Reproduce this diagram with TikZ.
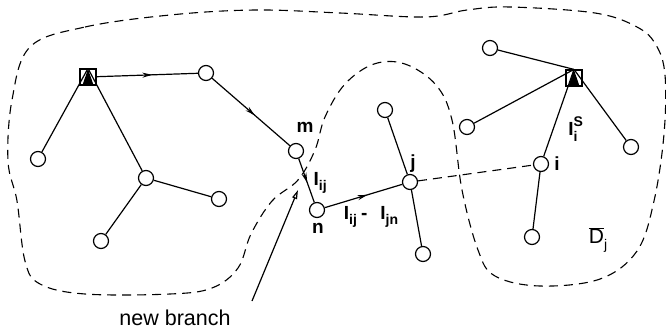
\documentclass[tikz,border=0pt]{standalone}
\usepackage{fontspec}
\setmainfont{Liberation Sans}
\usetikzlibrary{arrows.meta,decorations.markings}
\newcommand\lsub[1]{\raisebox{-0.3em}{\fontsize{14}{14}\selectfont #1}}
\newcommand\lsup[1]{\raisebox{0.45em}{\fontsize{14}{14}\selectfont #1}}
\begin{document}
\begin{tikzpicture}[x=1pt,y=-1pt,line width=1.2pt,
 nd/.style={circle,draw,fill=white,minimum size=15pt,inner sep=0pt},
 src/.style={draw,fill=white,minimum size=16pt,inner sep=0pt,
   path picture={\fill[black] ([xshift=2.5pt]path picture bounding box.south west) -- ([xshift=-2.5pt]path picture bounding box.south east) -- (path picture bounding box.north) -- cycle;}},
 lab/.style={font=\fontsize{19}{19}\selectfont\bfseries,inner sep=0pt},
 bnd/.style={dash pattern=on 9pt off 6pt,line width=1.1pt},
 flow/.style={postaction=decorate,decoration={markings,mark=at position 0.55 with {\arrow{Stealth[length=10pt,width=5pt]}}}}
]
\useasboundingbox (0,0) rectangle (666,335);
% boundary
\draw[bnd] plot[smooth cycle,tension=0.6] coordinates {
(30,47) (85,27) (170,15) (255,10) (340,13) (425,17) (467,10) (510,7) (595,13) (637,27) (656,45) (665,75) (664,134) (654,201) (637,251) (600,279) (540,286) (495,276) (478,250) (462,190) (452,120) (436,85) (405,64) (374,64) (345,84) (325,117) (315,150) (298,180) (272,201) (251,234) (238,268) (212,288) (170,294) (85,294) (40,284) (25,261) (17,201) (8,161) (12,100)};
% nodes
\node[src] (S1) at (88,77) {};
\node[nd] (a) at (206,73) {};
\node[nd] (m) at (296,151) {};
\node[nd] (n) at (317,210) {};
\node[nd] (j) at (410,182) {};
\node[nd] (jt) at (385,110) {};
\node[nd] (jb) at (423,254) {};
\node[nd] (L1) at (38,159) {};
\node[nd] (mid) at (146,178) {};
\node[nd] (mr) at (219,199) {};
\node[nd] (mb) at (101,241) {};
\node[src] (S2) at (574,78) {};
\node[nd] (r1) at (490,48) {};
\node[nd] (r2) at (467,127) {};
\node[nd] (r3) at (631,147) {};
\node[nd] (i) at (541,164) {};
\node[nd] (ib) at (532,237) {};
% edges
\draw[flow] (S1) -- (a);
\draw[flow] (a) -- (m);
\draw[flow] (m) -- (n);
\draw[flow] (n) -- (j);
\draw (L1) -- (S1.north);
\draw (mid) -- (S1.north);
\draw (mid) -- (mr);
\draw (mid) -- (mb);
\draw (j) -- (jt);
\draw (j) -- (jb);
\draw (r1) -- (S2.north);
\draw (r2) -- (S2.north);
\draw (r3) -- (S2.north);
\draw (i) -- (S2.north);
\draw (i) -- (ib);
\draw[bnd] (j) -- (i);
% labels
\node[lab] (lm) at (305,127) {m};
\node[lab] (ln) at (318,228) {n};
\node[lab] (lj) at (413,164) {j};
\node[lab] (li) at (557,164) {i};
\node[lab,anchor=west] (lIij) at (313,183) {I\lsub{ij}};
\node[lab] (lflow) at (371,217) {I\lsub{ij}\hspace{4pt}-\hspace{13pt}I\lsub{jn}};
\node[lab] (lIs) at (573,129) {I\rlap{\lsup{S}}\lsub{i}};
\node[font=\fontsize{21}{21}\selectfont,inner sep=0pt] (lD) at (598,240) {$\overline{\mbox{D}}$\lsub{j}};
\node[font=\fontsize{21.5}{21.5}\selectfont,inner sep=0pt] (nb) at (175,318) {new branch};
\coordinate (nbs) at (252,301);
\coordinate (nbt) at (298,190);
\draw[-{Triangle[open,length=9pt,width=5pt]}] (nbs) -- (nbt);
\end{tikzpicture}
\end{document}
